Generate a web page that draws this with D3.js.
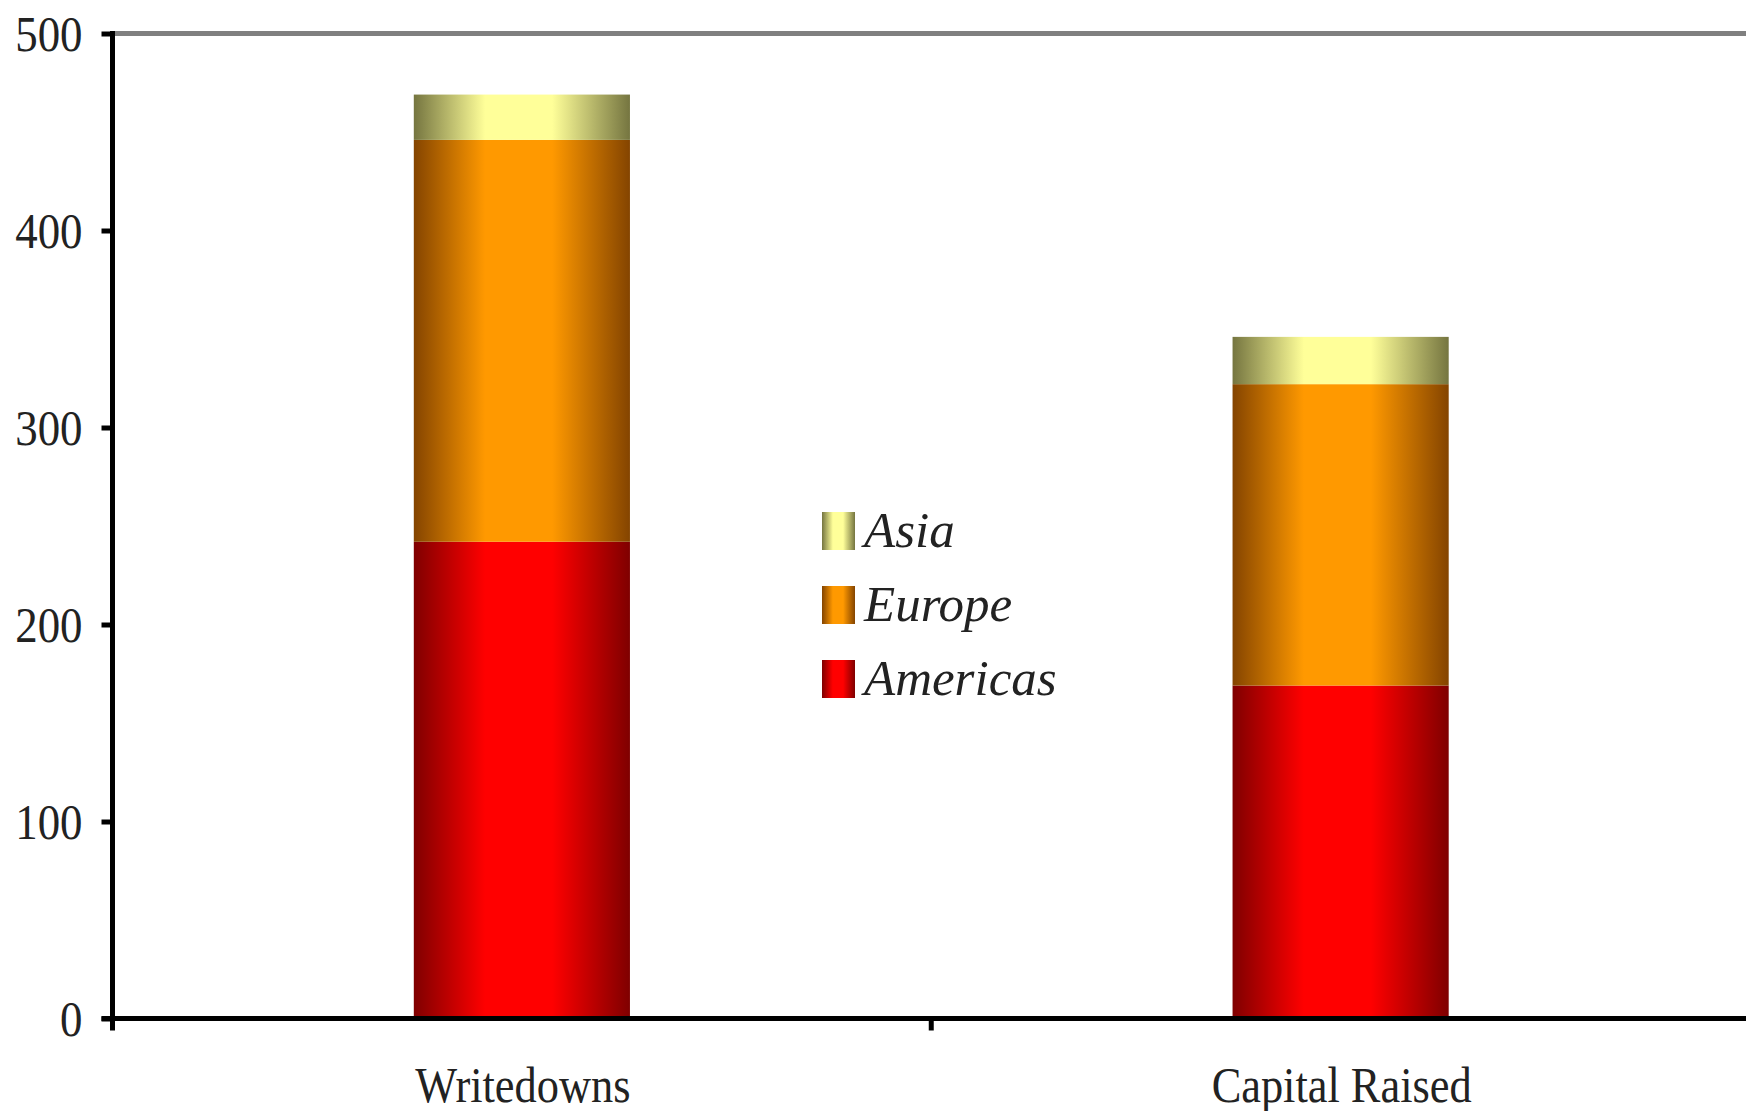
<!DOCTYPE html>
<html>
<head>
<meta charset="utf-8">
<script src="https://cdn.jsdelivr.net/npm/d3@7"></script>
<style>
  body { margin: 0; background: #fff; }
  svg { display: block; }
</style>
</head>
<body>
<svg id="chart"></svg>
<script>
let categories = ["Writedowns", "Capital Raised"];
let americas   = [242, 169];
let europe     = [204, 153];
let asia       = [23, 24];
let yTicks     = [0, 100, 200, 300, 400, 500];

let seriesNames = ["Americas", "Europe", "Asia"];
let legendOrder = ["Asia", "Europe", "Americas"];

let width   = 1746;
let height  = 1111;
let plotL   = 112.5;
let plotR   = 1750;
let plotT   = 33.5;
let plotB   = 1018.5;

let svg = d3.select("#chart").attr("width", width).attr("height", height);

// gradients (dark edges, bright middle)
let colors = {
  Americas: { edge: "#7f0000", mid: "#ff0000" },
  Europe:   { edge: "#844400", mid: "#ff9900" },
  Asia:     { edge: "#757540", mid: "#ffff99" }
};
let defs = svg.append("defs");
seriesNames.forEach(function(name) {
  let g = defs.append("linearGradient").attr("id", "grad-" + name)
    .attr("x1", "0%").attr("x2", "100%").attr("y1", "0%").attr("y2", "0%");
  g.append("stop").attr("offset", "0%").attr("stop-color", colors[name].edge);
  g.append("stop").attr("offset", "33%").attr("stop-color", colors[name].mid);
  g.append("stop").attr("offset", "64%").attr("stop-color", colors[name].mid);
  g.append("stop").attr("offset", "100%").attr("stop-color", colors[name].edge);
});

let x = d3.scaleBand().domain(categories).range([plotL, plotR])
  .paddingInner(0.736).paddingOuter(0.368);
let y = d3.scaleLinear().domain([0, 500]).range([plotB, plotT]);

let rows = categories.map(function(c, i) {
  return { category: c, Americas: americas[i], Europe: europe[i], Asia: asia[i] };
});
let stacked = d3.stack().keys(seriesNames)(rows);

// top border line at 500
svg.append("line")
  .attr("x1", plotL).attr("x2", plotR)
  .attr("y1", y(500)).attr("y2", y(500))
  .attr("stroke", "#808080").attr("stroke-width", 5);

// bars
svg.append("g").selectAll("g")
  .data(stacked)
  .join("g")
  .attr("fill", function(d) { return "url(#grad-" + d.key + ")"; })
  .selectAll("rect")
  .data(function(d) { return d; })
  .join("rect")
  .attr("x", function(d) { return x(d.data.category); })
  .attr("width", x.bandwidth())
  .attr("y", function(d) { return y(d[1]); })
  .attr("height", function(d) { return y(d[0]) - y(d[1]); });

// y axis
let yAxis = svg.append("g")
  .attr("transform", "translate(" + plotL + ",0)")
  .call(d3.axisLeft(y).tickValues(yTicks).tickSize(11).tickSizeOuter(0).tickFormat(d3.format("d")));
yAxis.select(".domain").remove();
yAxis.selectAll(".tick line").attr("stroke", "#000").attr("stroke-width", 5);
yAxis.selectAll(".tick text")
  .attr("x", 0)
  .attr("dy", "0.34em")
  .attr("transform", "translate(-30,0) scale(0.88,1)")
  .attr("font-family", "'Liberation Serif', 'Times New Roman', serif")
  .attr("font-size", 51)
  .attr("fill", "#222");

svg.append("line")
  .attr("x1", plotL).attr("x2", plotL)
  .attr("y1", plotT - 2.5).attr("y2", plotB + 12)
  .attr("stroke", "#000").attr("stroke-width", 5);

// x axis
let xAxis = svg.append("g")
  .attr("transform", "translate(0," + plotB + ")");
xAxis.append("line")
  .attr("x1", plotL - 11).attr("x2", plotR)
  .attr("stroke", "#000").attr("stroke-width", 5);
xAxis.append("line")
  .attr("x1", x.step() + plotL).attr("x2", x.step() + plotL)
  .attr("y1", 0).attr("y2", 12)
  .attr("stroke", "#000").attr("stroke-width", 5);
xAxis.selectAll("text.cat")
  .data(categories)
  .join("text")
  .attr("class", "cat")
  .attr("text-anchor", "middle")
  .attr("transform", function(d) {
    return "translate(" + (x(d) + x.bandwidth() / 2 + 1) + ",83) scale(0.87,1)";
  })
  .attr("font-family", "'Liberation Serif', 'Times New Roman', serif")
  .attr("font-size", 51)
  .attr("fill", "#222")
  .text(function(d) { return d; });

// legend
let legend = svg.append("g").attr("transform", "translate(822,512)");
let item = legend.selectAll("g")
  .data(legendOrder)
  .join("g")
  .attr("transform", function(d, i) { return "translate(0," + (i * 74) + ")"; });
item.append("rect")
  .attr("width", 33).attr("height", 38)
  .attr("fill", function(d) { return "url(#grad-" + d + ")"; });
item.append("text")
  .attr("x", 42).attr("y", 35)
  .attr("font-family", "'Liberation Serif', 'Times New Roman', serif")
  .attr("font-style", "italic")
  .attr("font-size", 51)
  .attr("fill", "#222")
  .text(function(d) { return d; });
</script>
</body>
</html>
